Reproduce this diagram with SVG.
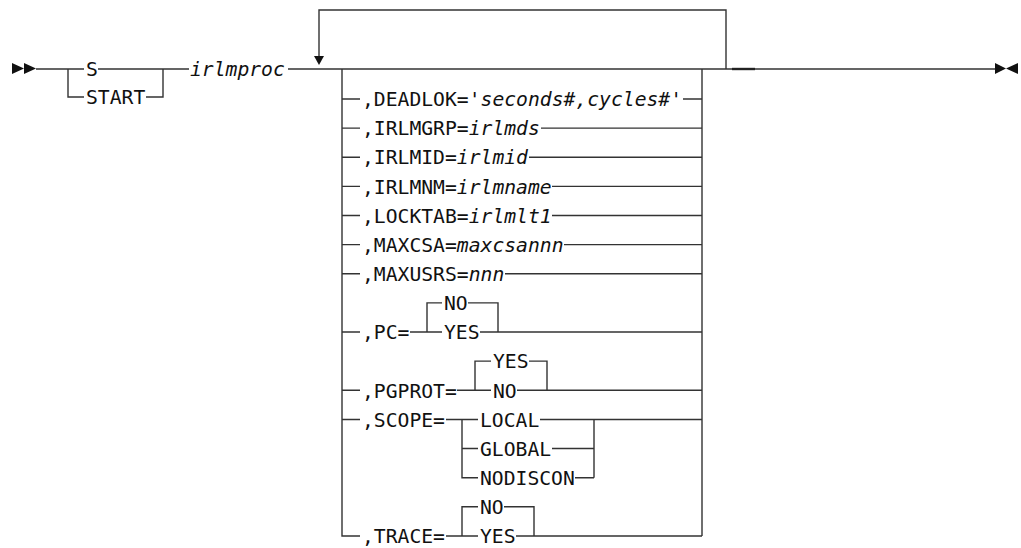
<svg xmlns="http://www.w3.org/2000/svg" width="1021" height="548" viewBox="0 0 1021 548">
<style>
  .ln{fill:none;stroke:#333;stroke-width:1.4}
  .t{font-family:"DejaVu Sans Mono","Liberation Mono",monospace;font-size:19.7px;fill:#111}
  .i{font-style:italic}
  .ah{fill:#111}
</style>
<rect width="1021" height="548" fill="#fff"/>
<g id="connectors">
  <!-- start/end markers -->
  <polygon class="ah" points="12,63 12,74 24,68.5"/>
  <polygon class="ah" points="24,63 24,74 36,68.5"/>
  <polygon class="ah" points="995,63 995,74 1006,68.5"/>
  <polygon class="ah" points="1018,63 1018,74 1006,68.5"/>
  <!-- main line -->
  <path class="ln" d="M36,69 H84 M98,69 H189 M288,69 H995"/>
  <path class="ln" d="M732,69 H755" style="stroke-width:2.4;stroke:#222"/>
  <!-- S / START choice -->
  <path class="ln" d="M68,69 V97 H84 M146,97 H163 V69"/>
  <!-- repeat loop -->
  <path class="ln" d="M726,69 V10 H319 V58"/>
  <polygon class="ah" points="314,56 324,56 319,65"/>
  <!-- option block verticals -->
  <path class="ln" d="M342,69 V535.95 H360 M702,69 V535.95"/>
  <!-- simple rows -->
  <path class="ln" d="M342,99 H360 M683,99 H702"/>
  <path class="ln" d="M342,128.13 H360 M541,128.13 H702"/>
  <path class="ln" d="M342,157.26 H360 M529,157.26 H702"/>
  <path class="ln" d="M342,186.39 H360 M552,186.39 H702"/>
  <path class="ln" d="M342,215.52 H360 M552,215.52 H702"/>
  <path class="ln" d="M342,244.65 H360 M564,244.65 H702"/>
  <path class="ln" d="M342,273.78 H360 M505,273.78 H702"/>
  <!-- PC -->
  <path class="ln" d="M342,332.04 H360 M410,332.04 H442 M480,332.04 H702"/>
  <path class="ln" d="M427,332.04 V302.91 H442 M468,302.91 H498 V332.04"/>
  <!-- PGPROT -->
  <path class="ln" d="M342,390.3 H360 M457,390.3 H491 M517,390.3 H702"/>
  <path class="ln" d="M475,390.3 V361.17 H491 M529,361.17 H547 V390.3"/>
  <!-- SCOPE -->
  <path class="ln" d="M342,419.43 H360 M446,419.43 H478 M540,419.43 H702"/>
  <path class="ln" d="M462,419.43 V477.69 H478 M462,448.56 H478"/>
  <path class="ln" d="M552,448.56 H594 M575,477.69 H594 M594,419.43 V477.69"/>
  <!-- TRACE -->
  <path class="ln" d="M446,535.95 H478 M516,535.95 H702"/>
  <path class="ln" d="M462,535.95 V506.82 H478 M504,506.82 H534 V535.95"/>
</g>
<g id="start">
  <text class="t" x="86" y="76.2">S</text>
  <text class="t" x="86" y="104.2">START</text>
</g>
<g id="irlmproc"><text class="t i" x="190" y="76.2">irlmproc</text></g>
<g id="deadlok"><text class="t" x="362" y="106.2">,DEADLOK=<tspan class="i">'seconds#,cycles#'</tspan></text></g>
<g id="irlmgrp"><text class="t" x="362" y="135.33">,IRLMGRP=<tspan class="i">irlmds</tspan></text></g>
<g id="irlmid"><text class="t" x="362" y="164.46">,IRLMID=<tspan class="i">irlmid</tspan></text></g>
<g id="irlmnm"><text class="t" x="362" y="193.59">,IRLMNM=<tspan class="i">irlmname</tspan></text></g>
<g id="locktab"><text class="t" x="362" y="222.72">,LOCKTAB=<tspan class="i">irlmlt1</tspan></text></g>
<g id="maxcsa"><text class="t" x="362" y="251.85">,MAXCSA=<tspan class="i">maxcsannn</tspan></text></g>
<g id="maxusrs"><text class="t" x="362" y="280.98">,MAXUSRS=<tspan class="i">nnn</tspan></text></g>
<g id="pc">
  <text class="t" x="362" y="339.24">,PC=</text>
  <text class="t" x="444" y="310.11">NO</text>
  <text class="t" x="444" y="339.24">YES</text>
</g>
<g id="pgprot">
  <text class="t" x="362" y="397.5">,PGPROT=</text>
  <text class="t" x="493" y="368.37">YES</text>
  <text class="t" x="493" y="397.5">NO</text>
</g>
<g id="scope">
  <text class="t" x="362" y="426.63">,SCOPE=</text>
  <text class="t" x="480" y="426.63">LOCAL</text>
  <text class="t" x="480" y="455.76">GLOBAL</text>
  <text class="t" x="480" y="484.89">NODISCON</text>
</g>
<g id="trace">
  <text class="t" x="362" y="543.15">,TRACE=</text>
  <text class="t" x="480" y="514.02">NO</text>
  <text class="t" x="480" y="543.15">YES</text>
</g>
</svg>
